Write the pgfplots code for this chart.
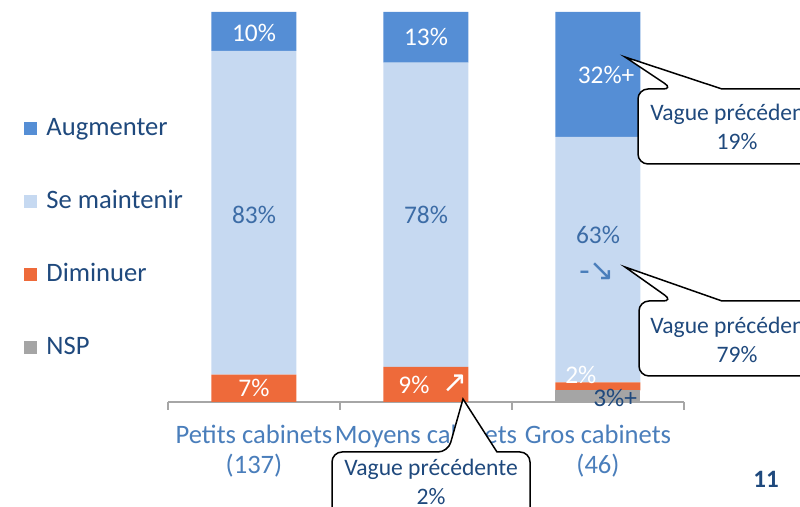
\documentclass[border=0pt]{standalone}
\usepackage{pgfplots}
\pgfplotsset{compat=1.18}
\usepackage{fontspec}
\setmainfont{Carlito}
\newfontfamily\sym{DejaVu Sans}

\definecolor{aug}{HTML}{558ED5}
\definecolor{maint}{HTML}{C6D9F1}
\definecolor{dim}{HTML}{EE6A3A}
\definecolor{nsp}{HTML}{A5A5A5}
\definecolor{navy}{HTML}{1F497D}
\definecolor{tickblue}{HTML}{4A7EBB}
\definecolor{midblue}{HTML}{3C6CA6}
\definecolor{axisgrey}{HTML}{A6A6A6}

\pgfplotsset{
  frame/.style={
    scale only axis, width=258pt, height=195pt,
    at={(84pt,52.5pt)}, anchor=south west,
    xmin=-0.5, xmax=2.5, ymin=0, ymax=100,
    clip=false,
  },
  lbl/.style={draw=none, mark=none, forget plot, nodes near coords,
    point meta=explicit symbolic, nodes near coords align={center},
    every node near coord/.style={anchor=center, inner sep=0pt,
      font=\fontsize{12.7}{14}\selectfont, text=#1}},
}

\begin{document}
\begin{tikzpicture}
\path[use as bounding box] (0,0) rectangle (400pt,253.5pt);
\clip (0,0) rectangle (400pt,253.5pt);

\begin{axis}[frame,
  ybar stacked, bar width=42.5pt,
  axis y line=none, axis x line*=bottom,
  x axis line style={draw=axisgrey, line width=0.6pt, -},
  xtick={0,1,2}, major tick length=0pt,
  xticklabels={{Petits cabinets\\(137)},{Moyens cabinets},{Gros cabinets\\(46)}},
  xticklabel style={align=center, font=\fontsize{13.3}{15}\selectfont, text=tickblue, yshift=-8pt},
  minor xtick={-0.5,0.5,1.5,2.5}, minor tick length=4pt, tick align=outside,
  minor tick style={draw=axisgrey, line width=0.6pt},
  reverse legend,
  legend cell align=left,
  legend style={at={(axis description cs:-0.279,0.736)}, anchor=north west,
    draw=none, fill=none, inner sep=0pt, column sep=4.5pt, row sep=23.5pt,
    font=\fontsize{13.3}{15}\selectfont,
    nodes={inner sep=0pt, text height=10pt, text depth=3pt, text=navy}},
  legend image code/.code={\fill[#1] (0pt,-3.25pt) rectangle (6.5pt,3.25pt);},
]
\addplot[fill=nsp, draw=none] coordinates {(0,0) (1,0) (2,3)};
\addplot[fill=dim, draw=none] coordinates {(0,7) (1,9) (2,2)};
\addplot[fill=maint, draw=none] coordinates {(0,83) (1,78) (2,63)};
\addplot[fill=aug, draw=none] coordinates {(0,10) (1,13) (2,32)};
\legend{NSP, Diminuer, Se maintenir, Augmenter}
\end{axis}

\begin{axis}[frame, hide axis]
\addplot[lbl=white] coordinates {(0,94.6) [10\%] (0,3.6) [7\%] (1,93.6) [13\%] (0.93,4.4) [9\%] (2.047,83.8) [32\%+] (1.9,6.9) [2\%]};
\addplot[lbl=midblue] coordinates {(0,48) [83\%] (1,48) [78\%] (2,42.8) [63\%]};
\addplot[lbl=navy] coordinates {(2.1,1.0) [3\%+]};
\addplot[lbl=white, every node near coord/.append style={font=\sym\fontsize{15}{16}\selectfont}] coordinates {(1.17,4.6) [↗]};
\addplot[lbl=tickblue, every node near coord/.append style={font=\sym\fontsize{15}{16}\selectfont}] coordinates {(1.995,33.5) [-↘]};
\end{axis}

\begin{scope}[x=0.5pt, y=-0.5pt, shift={(0,253.5pt)}]
  % bulle du bas
  \filldraw[fill=white, draw=black, line width=0.75pt]
    (431,560) [rounded corners=5pt] -- (332,560) -- (332,452) -- (448,452) [sharp corners]
    -- (463,399) -- (497,452) [rounded corners=5pt] -- (530,452) -- (530,560) -- cycle;
  \node[text=navy, font=\fontsize{11.8}{14.5}\selectfont, align=center] at (431,482) {Vague précédente\\2\%};
  % bulle haut droite
  \filldraw[fill=white, draw=black, line width=0.75pt]
    (740,164) [rounded corners=5pt] -- (638,164) -- (638,89) -- (673,89) [sharp corners]
    -- (625,57) -- (722,89) [rounded corners=5pt] -- (838,89) -- (838,164) -- cycle;
  \node[text=navy, font=\fontsize{11.8}{14.5}\selectfont, align=center] at (737,127) {Vague précédente\\19\%};
  % bulle milieu droite
  \filldraw[fill=white, draw=black, line width=0.75pt]
    (740,376) [rounded corners=5pt] -- (639,376) -- (639,301) -- (673,301) [sharp corners]
    -- (625,267) -- (722,301) [rounded corners=5pt] -- (838,301) -- (838,376) -- cycle;
  \node[text=navy, font=\fontsize{11.8}{14.5}\selectfont, align=center] at (737,340) {Vague précédente\\79\%};
  \node[text=navy, font=\bfseries\fontsize{12.5}{14}\selectfont] at (766,479) {11};
\end{scope}
\end{tikzpicture}
\end{document}
